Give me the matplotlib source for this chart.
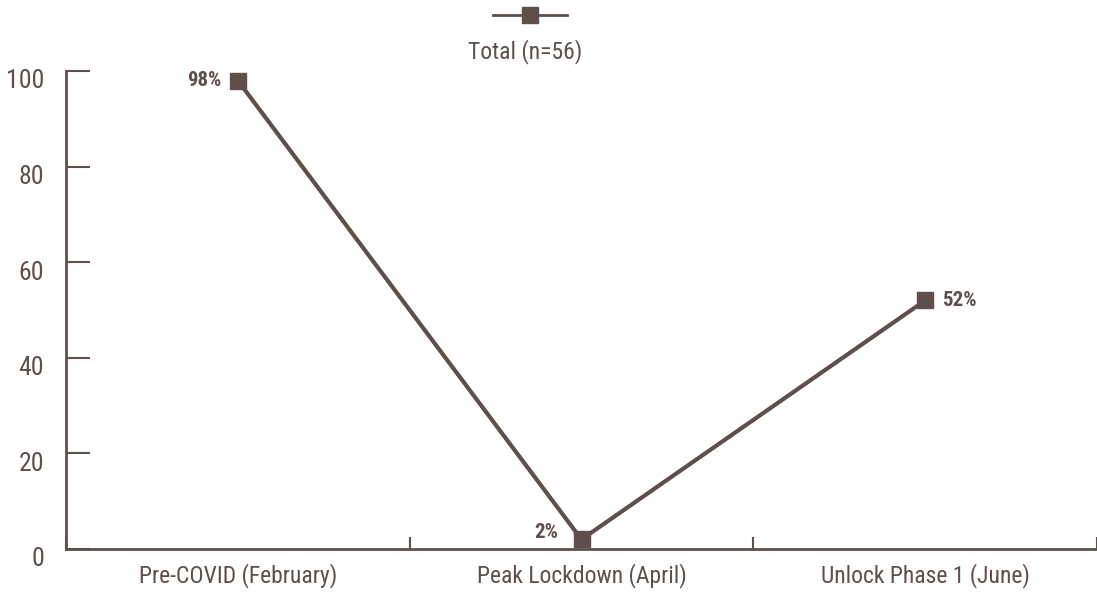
import matplotlib
matplotlib.use("Agg")
import matplotlib.pyplot as plt
import matplotlib.transforms as mtransforms

categories = ["Pre-COVID (February)", "Peak Lockdown (April)", "Unlock Phase 1 (June)"]
values = [98, 2, 52]
value_labels = ["98%", "2%", "52%"]
yticks = [0, 20, 40, 60, 80, 100]
series_name = "Total (n=56)"

color = "#5e4f4c"
plt.rcParams["font.family"] = ["Roboto Condensed", "DejaVu Sans"]

fig = plt.figure(figsize=(10.97, 5.92), dpi=100)
ax = fig.add_axes([66 / 1097, 43 / 592, 1 - 66 / 1097, (549 - 71) / 592])

x = list(range(len(categories)))
ax.plot(x, values, color=color, lw=3, marker="s", markersize=11,
        solid_joinstyle="miter", zorder=3, clip_on=False)

ax.set_xlim(-0.5, len(categories) - 0.5)
ax.set_ylim(0, 100)

for s in ["top", "right"]:
    ax.spines[s].set_visible(False)
for s in ["left", "bottom"]:
    ax.spines[s].set_color(color)
    ax.spines[s].set_linewidth(2)

ax.set_yticks(yticks)
ax.tick_params(axis="y", direction="in", length=17, width=1.5, color=color,
               labelsize=18.5, labelcolor=color, pad=8)
for lab in ax.get_yticklabels():
    lab.set_transform(lab.get_transform() + mtransforms.ScaledTranslation(-0.11, -0.08, fig.dpi_scale_trans))

ax.set_xticks([-0.5, 0.5, 1.5, 2.5])
ax.set_xticklabels([])
ax.tick_params(axis="x", direction="in", length=9, width=1.5, color=color)
ax.set_xticks(x, minor=True)
ax.set_xticklabels(categories, minor=True)
ax.tick_params(axis="x", which="minor", length=0, labelsize=17, labelcolor=color, pad=10)

offsets = [(-12, 0, "right", "center"), (-17, 5, "right", "center"), (12.5, 0, "left", "center")]
for xi, v, lab, (dx, dy, ha, va) in zip(x, values, value_labels, offsets):
    ax.annotate(lab, (xi, v), xytext=(dx, dy), textcoords="offset points",
                ha=ha, va=va, fontsize=15, fontweight="bold", color=color)

# legend above the plot
fig.lines.append(plt.Line2D([493 / 1097, 567 / 1097], [1 - 15 / 592] * 2, transform=fig.transFigure,
                            color=color, lw=2))
fig.lines.append(plt.Line2D([530 / 1097], [1 - 15 / 592], transform=fig.transFigure,
                            color=color, marker="s", markersize=11, lw=0))
fig.text(525 / 1097, 1 - 52 / 592, series_name, ha="center", va="center", fontsize=17, color=color)

fig.savefig("out.png", dpi=100)
